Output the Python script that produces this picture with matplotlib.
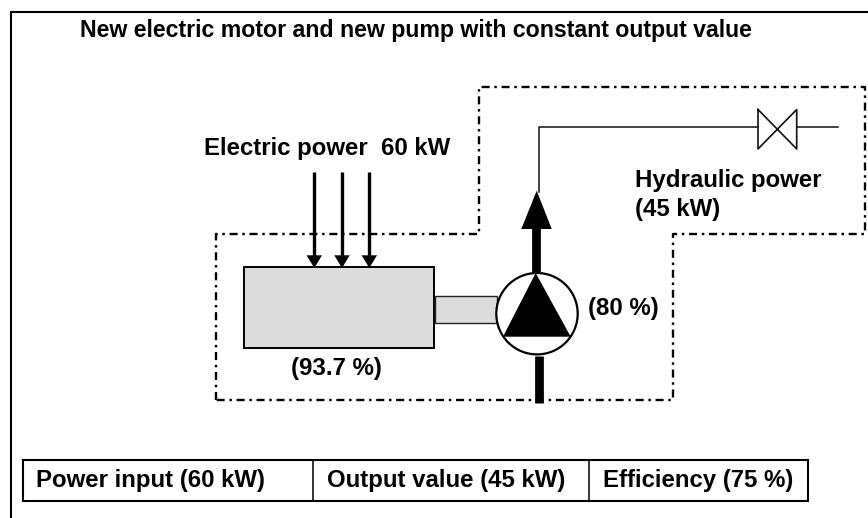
import matplotlib
matplotlib.use("Agg")
import matplotlib.pyplot as plt
from matplotlib.patches import Rectangle, Circle, Polygon

plt.rcParams['font.family'] = ['Liberation Sans', 'DejaVu Sans']

title = "New electric motor and new pump with constant output value"
electric_label = "Electric power  60 kW"
hydraulic_label = "Hydraulic power\n(45 kW)"
motor_eff_label = "(93.7 %)"
pump_eff_label = "(80 %)"
table_labels = ["Power input (60 kW)", "Output value (45 kW)", "Efficiency (75 %)"]

W, H = 868, 518
fig = plt.figure(figsize=(W/100, H/100), dpi=100)
ax = fig.add_axes([0, 0, 1, 1])
ax.set_xlim(0, W)
ax.set_ylim(H, 0)
ax.axis('off')

# outer frame: left and top edges only are visible
ax.plot([11, 11, 868], [518, 12, 12], color='black', lw=1.5, solid_joinstyle='miter')

# dash-dot system boundary
dash = (0, (3.4, 2.0, 1.05, 2.0))
bx = [216, 216, 478.5, 478.5, 864.5, 864.5, 673, 673, 216]
by = [399.5, 233.5, 233.5, 87, 87, 233.5, 233.5, 399.5, 399.5]
ax.plot(bx, by, color='black', lw=1.7, ls=dash, dash_capstyle='butt')

# motor and shaft
ax.add_patch(Rectangle((243.7, 266.7), 190.6, 81, fc='#dcdcdc', ec='black', lw=1.4))
ax.add_patch(Rectangle((434.5, 296), 62.5, 26.7, fc='#dcdcdc', ec='#222222', lw=1.0))

# power arrows
for x in (314.3, 342, 369.3):
    ax.plot([x, x], [171.7, 256], color='black', lw=2.4, solid_capstyle='butt')
    ax.add_patch(Polygon([(x-7.7, 255.3), (x+7.7, 255.3), (x, 268)], fc='black', ec='none'))

# pump
ax.add_patch(Circle((537, 313.7), 40.7, fc='white', ec='black', lw=1.6, zorder=3))
ax.add_patch(Polygon([(535.7, 273), (503, 336.7), (570.7, 336.7)], fc='black', ec='none', zorder=4))
ax.plot([538.7, 538.7], [356, 402.7], color='black', lw=6.3, solid_capstyle='butt', zorder=5)
ax.plot([536.3, 536.3], [228, 274], color='black', lw=6.3, solid_capstyle='butt')
ax.add_patch(Polygon([(536.7, 190.7), (521.3, 229), (551.7, 229)], fc='black', ec='none'))

# pipe and valve
ax.plot([538.7, 538.7, 758], [192, 127.3, 127.3], color='#111111', lw=1.1)
ax.plot([797, 837.7], [127.3, 127.3], color='#111111', lw=1.1)
ax.plot([758, 796.7, 796.7, 758, 758], [109.5, 149, 109.5, 149, 109.5], color='#111111', lw=1.2)

# texts
fs = 17.3
ax.text(416, 30, title, ha='center', va='center', fontsize=16.7, fontweight='bold')
ax.text(327.5, 148, electric_label, ha='center', va='center', fontsize=fs, fontweight='bold')
ax.text(635, 180, hydraulic_label.split("\n")[0], ha='left', va='center', fontsize=fs, fontweight='bold')
ax.text(635, 209.5, hydraulic_label.split("\n")[1], ha='left', va='center', fontsize=fs, fontweight='bold')
ax.text(336, 368, motor_eff_label, ha='center', va='center', fontsize=fs, fontweight='bold')
ax.text(623, 309, pump_eff_label, ha='center', va='center', fontsize=fs, fontweight='bold')

# table
tx = [22.5, 313, 589, 808]
ty0, ty1 = 459.5, 500.5
ax.add_patch(Rectangle((tx[0], ty0), tx[-1]-tx[0], ty1-ty0, fc='none', ec='black', lw=1.5))
for x in tx[1:-1]:
    ax.plot([x, x], [ty0, ty1], color='black', lw=1.1)
for x, y, s in zip([36, 327, 603], [481, 481, 480], table_labels):
    ax.text(x, y, s, ha='left', va='center', fontsize=fs, fontweight='bold')

fig.savefig('out.png', dpi=100)
